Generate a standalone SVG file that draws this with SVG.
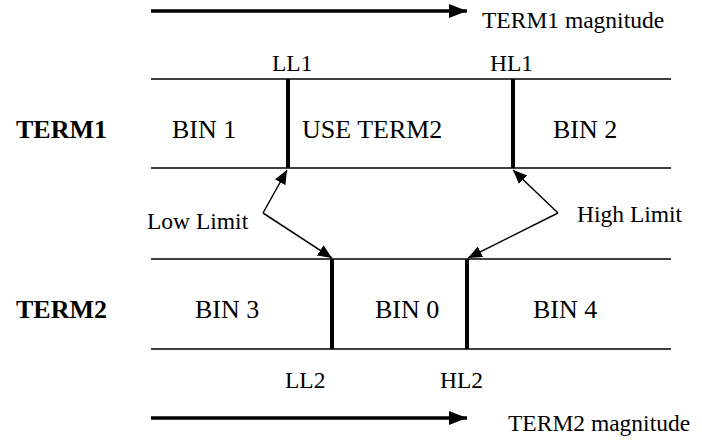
<svg xmlns="http://www.w3.org/2000/svg" width="702" height="440" viewBox="0 0 702 440">
<style>
text{font-family:"Liberation Serif","Times New Roman",serif;font-size:26px;fill:#000}
.b{font-weight:bold}
.s{font-size:23.5px}
.ln{stroke:#000;stroke-width:1.5;fill:none}
.bar{stroke:#000;stroke-width:4}
.ax{stroke:#000;stroke-width:3.5;fill:none}
.pt{stroke:#000;stroke-width:1.5;fill:none}
</style>
<defs>
<marker id="ah" markerWidth="14" markerHeight="12" refX="14" refY="6" orient="auto" markerUnits="userSpaceOnUse"><path d="M0,0 L14,6 L0,12 Z" fill="#000"/></marker>
<marker id="big" markerWidth="18" markerHeight="14" refX="18" refY="7" orient="auto" markerUnits="userSpaceOnUse"><path d="M0,0 L18,7 L0,14 Z" fill="#000"/></marker>
</defs>
<g id="axis1"><line class="ax" x1="151" y1="11" x2="467" y2="11" marker-end="url(#big)"/><text class="s" x="482" y="28">TERM1 magnitude</text></g>
<g id="term1">
<line class="ln" x1="151" y1="79" x2="671" y2="79"/>
<line class="ln" x1="151" y1="168" x2="671" y2="168"/>
<line class="bar" x1="288" y1="79" x2="288" y2="168"/>
<line class="bar" x1="513" y1="79" x2="513" y2="168"/>
<text class="s" x="272" y="71">LL1</text><text class="s" x="490" y="71">HL1</text>
<text class="b" x="16" y="138">TERM1</text>
<text x="172" y="138">BIN 1</text>
<text x="302" y="138">USE TERM2</text>
<text x="553" y="138">BIN 2</text>
</g>
<g id="term2">
<line class="ln" x1="151" y1="259" x2="671" y2="259"/>
<line class="ln" x1="151" y1="349" x2="671" y2="349"/>
<line class="bar" x1="332" y1="259" x2="332" y2="349"/>
<line class="bar" x1="467" y1="259" x2="467" y2="349"/>
<text class="b" x="16" y="318">TERM2</text>
<text x="195" y="318">BIN 3</text>
<text x="375" y="318">BIN 0</text>
<text x="533" y="318">BIN 4</text>
<text class="s" x="285" y="388">LL2</text><text class="s" x="440" y="388">HL2</text>
</g>
<g id="axis2"><line class="ax" x1="151" y1="418" x2="467" y2="418" marker-end="url(#big)"/><text class="s" x="508" y="431">TERM2 magnitude</text></g>
<g id="connectors">
<line class="pt" x1="263" y1="213" x2="287" y2="170" marker-end="url(#ah)"/>
<line class="pt" x1="263" y1="213" x2="332" y2="258" marker-end="url(#ah)"/>
<line class="pt" x1="558" y1="213" x2="513" y2="170" marker-end="url(#ah)"/>
<line class="pt" x1="558" y1="213" x2="468" y2="258" marker-end="url(#ah)"/>
<text class="s" x="147" y="229">Low Limit</text>
<text class="s" x="577" y="222">High Limit</text>
</g>
</svg>
